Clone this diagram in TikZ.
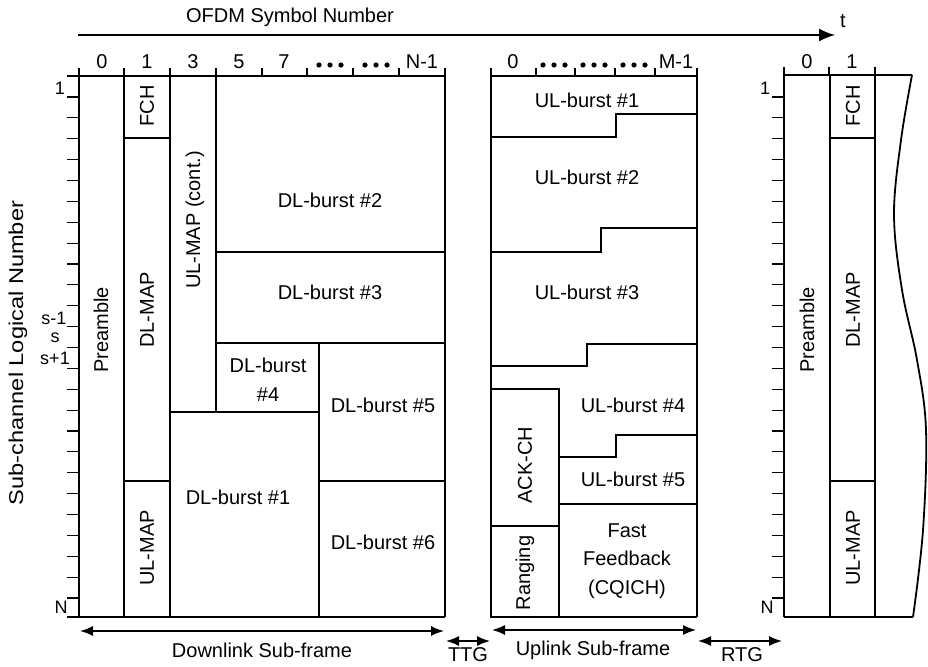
\documentclass[tikz,border=0pt]{standalone}
\usepackage{fontspec}
\setmainfont{Liberation Sans}
\usetikzlibrary{arrows.meta}
\begin{document}
\begin{tikzpicture}[x=1pt,y=-1pt,
  font=\fontsize{20}{24}\selectfont,
  ln/.style={line width=1.2pt},
  mid/.style={line width=1.8pt},
  thk/.style={line width=2.6pt},
  lab/.style={inner sep=0pt},
  small/.style={inner sep=0pt,font=\fontsize{18}{20}\selectfont},
  rot/.style={inner sep=0pt,rotate=90},
  dots/.style={inner sep=0pt,minimum width=30pt,minimum height=6pt},
  dbl/.style={line width=1.5pt,{Latex[length=13pt,width=10pt]}-{Latex[length=13pt,width=10pt]}}
]
\useasboundingbox (0,0) rectangle (928,666);

% ---------- time axis ----------
\coordinate (ax0) at (78,35);
\coordinate (ax1) at (835,35);
\draw[line width=1.6pt,-{Latex[length=16pt,width=13pt]}] (ax0) -- (ax1);
\node[lab] (tlab) at (843,21) {t};
\node[lab] (ofdm) at (290,17) {OFDM Symbol Number};

% ---------- y-axis label ----------
\node[rot] (subch) at (18,353) {\scalebox{1.18}[1]{Sub-channel Logical Number}};

% ---------- ticks ----------
\foreach \k in {0,...,24}{
  \draw[ln] (67,{97+\k*20.875}) -- (79,{97+\k*20.875});
  \draw[ln] (772,{97+\k*20.875}) -- (784,{97+\k*20.875});
}
\foreach \x in {79,124,170,216,262,307,353,399,445}
  \draw[ln] (\x,68) -- (\x,76);
\foreach \x in {491,536,575,615,655,697}
  \draw[ln] (\x,68) -- (\x,76);
\foreach \x in {784,829,875}
  \draw[ln] (\x,67) -- (\x,75);

% column labels
\node[lab] (c0) at (102,62) {0};
\node[lab] (c1) at (147,62) {1};
\node[lab] (c3) at (193,62) {3};
\node[lab] (c5) at (239,62) {5};
\node[lab] (c7) at (284,62) {7};
\node[dots] (cd1) at (330,65) {};
\node[dots] (cd2) at (376,65) {};
\node[lab] (cn) at (422,62) {N-1};
\node[lab] (u0) at (513,62) {0};
\node[dots] (ud1) at (554,65) {};
\node[dots] (ud2) at (594,65) {};
\node[dots] (ud3) at (634,65) {};
\node[lab] (um) at (676,62) {M-1};
\node[lab] (r0) at (807,62) {0};
\node[lab] (r1) at (852,62) {1};
\foreach \n in {cd1,cd2,ud1,ud2,ud3}{
  \fill ([xshift=-11pt]\n.center) circle (2.6pt);
  \fill (\n.center) circle (2.6pt);
  \fill ([xshift=11pt]\n.center) circle (2.6pt);
}

% row labels
\node[small] (row1) at (60,88) {1};
\node[small] (rowsm) at (54,318) {s-1};
\node[small] (rows) at (55,338) {s};
\node[small] (rowsp) at (55,358) {s+1};
\node[small] (rowN) at (61,607) {N};
\node[small] (rrow1) at (765,88) {1};
\node[small] (rrowN) at (767,607) {N};

% ---------- downlink sub-frame ----------
\draw[ln] (67,76) -- (445,76) -- (445,617);
\draw[ln] (79,76) -- (79,617);
\draw[ln] (124,76) -- (124,617);
\draw[ln] (170,76) -- (170,617);
\draw[ln] (124,138) -- (170,138);
\draw[ln] (124,481) -- (170,481);
\draw[ln] (216,76) -- (216,412);
\draw[ln] (216,252) -- (445,252);
\draw[thk] (216,343) -- (445,343);
\draw[thk] (319,343) -- (319,617);
\draw[thk] (319,481) -- (445,481);
\draw[thk] (170,412) rectangle (319,617);
\draw[thk] (67,617) -- (445,617);

\node[rot] (pre) at (101,330) {Preamble};
\node[rot] (fch) at (147,106) {FCH};
\node[rot] (dlmap) at (147,310) {DL-MAP};
\node[rot] (ulmap) at (147,548) {UL-MAP};
\node[rot] (ulmapc) at (195,220) {UL-MAP (cont.)};
\node[lab] (dl2) at (330,200) {DL-burst \#2};
\node[lab] (dl3) at (330,292) {DL-burst \#3};
\node[lab,align=center,font=\fontsize{20}{29}\selectfont] (dl4) at (268,380) {DL-burst\\\#4};
\node[lab] (dl5) at (383,405) {DL-burst \#5};
\node[lab] (dl1) at (238,497) {DL-burst \#1};
\node[lab] (dl6) at (383,542) {DL-burst \#6};

% ---------- uplink sub-frame ----------
\draw[ln] (491,617) -- (491,76) -- (697,76) -- (697,617);
\draw[mid] (491,137) -- (616,137) -- (616,114) -- (697,114);
\draw[mid] (491,252) -- (601,252) -- (601,228) -- (697,228);
\draw[mid] (491,366) -- (587,366) -- (587,344) -- (697,344);
\draw[mid] (559,457) -- (616,457) -- (616,435) -- (697,435);
\draw[mid] (559,504) -- (697,504);
\draw[thk] (491,389) rectangle (559,526);
\draw[thk] (491,526) rectangle (559,617);
\draw[thk] (491,617) -- (697,617);

\node[lab] (ul1) at (587,100) {UL-burst \#1};
\node[lab] (ul2) at (587,177) {UL-burst \#2};
\node[lab] (ul3) at (587,292) {UL-burst \#3};
\node[lab] (ul4) at (633,405) {UL-burst \#4};
\node[lab] (ul5) at (633,479) {UL-burst \#5};
\node[lab,align=center,font=\fontsize{20}{28.5}\selectfont] (ff) at (627,561) {Fast\\Feedback\\(CQICH)};
\node[rot] (ack) at (525,465) {ACK-CH};
\node[rot] (rng) at (525,573) {Ranging};

% ---------- next frame ----------
\draw[ln] (784,75) -- (912,75);
\draw[ln] (784,75) -- (784,617);
\draw[ln] (830,75) -- (830,617);
\draw[ln] (875,75) -- (875,617);
\draw[ln] (830,138) -- (875,138);
\draw[ln] (830,481) -- (875,481);
\draw[mid] (784,617) -- (913,617);
\draw[mid] plot[smooth,tension=0.6] coordinates {(912,75) (901,140) (894,215) (902,290) (917,360) (926,430) (923,530) (913,617)};

\node[rot] (pre2) at (807,330) {Preamble};
\node[rot] (fch2) at (853,106) {FCH};
\node[rot] (dlmap2) at (853,310) {DL-MAP};
\node[rot] (ulmap2) at (853,548) {UL-MAP};

% ---------- duration arrows ----------
\coordinate (dla) at (80,631);
\coordinate (dlb) at (444,631);
\draw[dbl] (dla) -- (dlb);
\node[lab] (dltxt) at (262,650) {Downlink Sub-frame};
\coordinate (ttga) at (446,641);
\coordinate (ttgb) at (490,641);
\draw[dbl] (ttga) -- (ttgb);
\node[lab] (ttgtxt) at (468,655) {TTG};
\coordinate (ula) at (492,630);
\coordinate (ulb) at (696,630);
\draw[dbl] (ula) -- (ulb);
\node[lab] (ultxt) at (593,650) {Uplink Sub-frame};
\coordinate (rtga) at (698,641);
\coordinate (rtgb) at (782,641);
\draw[dbl] (rtga) -- (rtgb);
\node[lab] (rtgtxt) at (742,655) {RTG};
\end{tikzpicture}
\end{document}
